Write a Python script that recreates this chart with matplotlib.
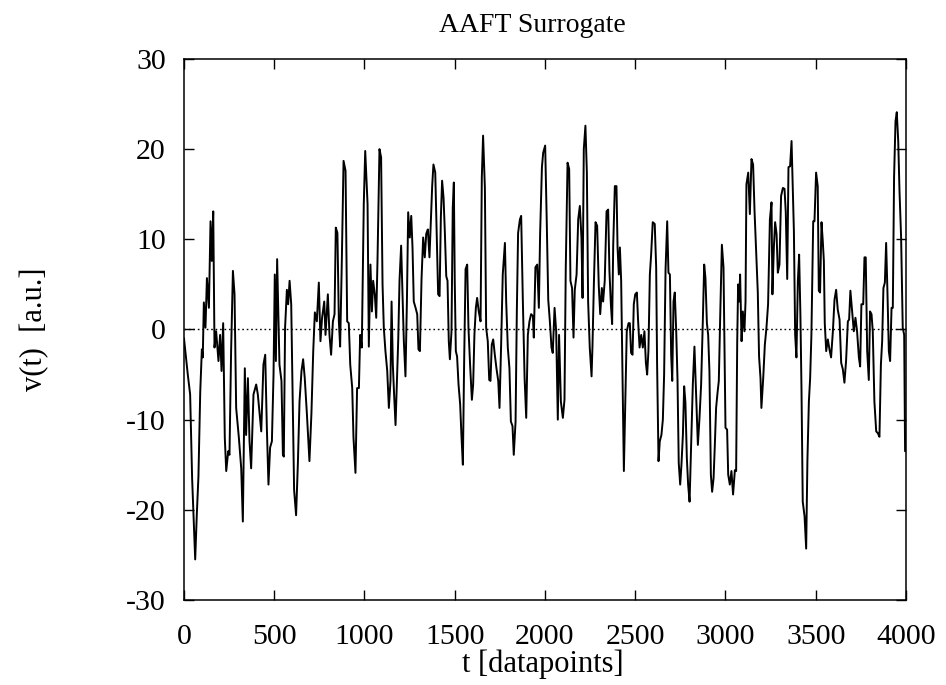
import matplotlib
matplotlib.use("Agg")
import matplotlib.pyplot as plt
import numpy as np

# Time index (datapoints) and signal value v(t) of the AAFT surrogate series
t = [0, 21, 34, 45, 62, 71, 80, 90, 99, 104, 110, 119, 127, 138, 147, 154, 162, 169, 178, 191,
     200, 208, 217, 226, 234, 245, 252, 261, 271, 280, 289, 304, 317, 326, 337, 344, 354, 363, 372, 385,
     400, 409, 428, 440, 450, 459, 468, 477, 487, 496, 503, 509, 516, 529, 540, 548, 553, 560, 570, 577,
     585, 594, 603, 610, 621, 631, 640, 651, 660, 669, 681, 695, 706, 716, 725, 736, 747, 756, 765, 777,
     784, 797, 806, 815, 825, 834, 841, 850, 858, 865, 874, 884, 895, 904, 913, 921, 932, 939, 950, 959,
     969, 976, 985, 996, 1004, 1013, 1017, 1024, 1033, 1041, 1048, 1057, 1065, 1072, 1083, 1092, 1100, 1107, 1116, 1126,
     1135, 1144, 1150, 1157, 1164, 1172, 1179, 1187, 1194, 1203, 1211, 1218, 1227, 1235, 1242, 1251, 1259, 1266, 1273, 1283,
     1292, 1299, 1307, 1316, 1325, 1334, 1342, 1351, 1360, 1368, 1375, 1382, 1392, 1399, 1408, 1416, 1423, 1430, 1438, 1445,
     1453, 1460, 1467, 1473, 1482, 1489, 1495, 1500, 1506, 1513, 1521, 1530, 1537, 1545, 1552, 1560, 1569, 1576, 1585, 1595,
     1602, 1609, 1617, 1624, 1633, 1643, 1650, 1657, 1667, 1674, 1683, 1691, 1698, 1705, 1713, 1722, 1731, 1741, 1748, 1757,
     1766, 1778, 1785, 1794, 1803, 1811, 1820, 1827, 1837, 1844, 1851, 1861, 1868, 1877, 1887, 1896, 1905, 1914, 1923, 1933,
     1938, 1947, 1957, 1966, 1973, 1983, 1990, 2001, 2010, 2018, 2027, 2036, 2043, 2053, 2062, 2071, 2078, 2088, 2099, 2108,
     2115, 2125, 2134, 2141, 2150, 2158, 2165, 2175, 2184, 2193, 2202, 2208, 2215, 2224, 2232, 2239, 2248, 2258, 2263, 2271,
     2280, 2289, 2298, 2306, 2315, 2322, 2331, 2341, 2350, 2357, 2365, 2372, 2378, 2387, 2396, 2402, 2409, 2415, 2422, 2429,
     2437, 2446, 2453, 2463, 2470, 2477, 2485, 2492, 2500, 2509, 2516, 2524, 2533, 2542, 2551, 2559, 2566, 2573, 2581, 2588,
     2597, 2608, 2616, 2621, 2629, 2636, 2645, 2653, 2660, 2668, 2677, 2684, 2692, 2699, 2705, 2712, 2719, 2727, 2734, 2741,
     2749, 2756, 2764, 2771, 2778, 2786, 2793, 2801, 2810, 2819, 2828, 2838, 2847, 2856, 2865, 2874, 2882, 2889, 2897, 2904,
     2911, 2919, 2926, 2934, 2941, 2948, 2956, 2963, 2971, 2980, 2989, 3000, 3009, 3015, 3024, 3033, 3042, 3052, 3059, 3065,
     3070, 3076, 3081, 3089, 3096, 3105, 3111, 3116, 3126, 3135, 3144, 3153, 3161, 3170, 3179, 3186, 3194, 3199, 3209, 3218,
     3227, 3236, 3246, 3255, 3260, 3268, 3275, 3283, 3290, 3299, 3308, 3318, 3327, 3334, 3342, 3349, 3358, 3366, 3371, 3379,
     3386, 3393, 3401, 3408, 3415, 3421, 3428, 3438, 3447, 3454, 3462, 3469, 3476, 3486, 3493, 3502, 3511, 3517, 3524, 3532,
     3539, 3545, 3550, 3558, 3567, 3576, 3585, 3595, 3604, 3613, 3622, 3632, 3641, 3650, 3659, 3668, 3678, 3685, 3692, 3702,
     3711, 3720, 3729, 3739, 3746, 3753, 3763, 3770, 3777, 3785, 3794, 3801, 3809, 3816, 3825, 3835, 3844, 3853, 3861, 3868,
     3875, 3883, 3890, 3897, 3905, 3912, 3920, 3927, 3934, 3942, 3949, 3957, 3964, 3973, 3982, 3990, 3995, 4000]

v = [-1.0, -5.0, -7.2, -16.5, -25.5, -20.5, -16.3, -6.9, -2.2, -3.1, 3.0, 0.2, 5.7, 2.4, 12.0, 7.6, 13.1, -2.0, -0.2, -3.5,
     -0.6, -4.6, 0.7, -12.0, -15.7, -13.5, -13.9, -2.4, 6.5, 3.9, -8.7, -12.0, -15.4, -21.3, -4.3, -11.7, -5.4, -12.4, -15.4, -7.2,
     -6.1, -7.2, -11.3, -3.9, -2.8, -10.9, -17.2, -13.1, -12.4, -5.0, 6.1, -3.5, 7.8, -3.9, -5.7, -13.9, -14.1, 0.2, 4.4, 2.8,
     5.4, 2.8, -8.5, -17.8, -20.6, -14.8, -8.0, -4.6, -3.3, -5.4, -9.4, -14.6, -9.3, -2.4, 1.9, 0.9, 5.2, -1.3, 1.3, 3.1,
     -0.6, 3.9, -0.6, -2.8, 0.9, 1.7, 11.3, 10.7, 0.9, -1.9, 7.2, 18.7, 17.6, 0.9, 0.7, -3.9, -6.5, -12.0, -15.9, -6.5,
     -6.5, -0.6, -2.0, 13.9, 19.8, 15.7, 13.9, -1.9, 7.2, 2.0, 5.4, 3.9, 1.3, 7.6, 20.0, 19.1, 5.0, 0.2, -2.4, -4.6,
     -8.7, -5.7, 3.1, -3.9, -7.2, -10.6, -6.1, -1.1, 5.4, 9.3, 3.5, -1.3, -5.2, 3.1, 13.0, 10.2, 12.6, 9.1, 3.1, 2.4,
     1.7, -2.2, -2.4, 5.6, 10.2, 8.0, 10.6, 11.1, 8.0, 12.2, 15.9, 18.3, 17.4, 11.5, 3.9, 3.7, 12.4, 16.5, 14.6, 10.9,
     5.9, 5.4, -1.3, -3.3, -0.2, 13.5, 16.3, 5.4, -2.4, -3.0, -6.1, -8.3, -11.7, -15.0, -3.7, 6.7, 7.2, 0.2, -3.9, -7.8,
     -6.1, -0.6, 2.4, 3.5, 2.0, 0.9, 16.9, 21.5, 15.7, 0.2, -1.3, -5.6, -5.7, -1.7, -1.1, -2.8, -4.3, -5.7, -8.7, -1.7,
     6.1, 9.6, 3.1, -2.0, -4.3, -10.2, -10.7, -13.9, -10.2, 2.0, 10.7, 12.2, 12.6, 3.5, -5.4, -9.8, -0.6, 0.9, 1.7, 1.5,
     -0.9, 6.9, 7.2, 2.4, 10.6, 18.0, 19.6, 20.4, 11.7, 3.3, 0.9, -2.0, -2.6, 2.4, -0.2, -10.0, -0.6, -8.0, -9.8, -7.8,
     6.7, 18.5, 17.8, 5.4, 4.6, -0.9, 4.4, 6.1, 12.2, 13.7, 10.2, 3.5, 20.0, 22.6, 17.4, 3.1, -2.0, -5.2, -1.9, 5.2,
     11.9, 11.5, 4.8, 1.7, 4.6, 3.1, 5.4, 13.1, 13.3, 6.5, 2.8, 0.6, 9.4, 15.9, 15.9, 9.1, 6.1, 9.1, 5.4, -4.3,
     -15.7, -7.2, -0.2, 0.7, 0.7, -2.6, -2.8, 2.8, 3.9, 4.1, 0.9, -2.0, -0.6, -2.0, -0.2, -3.7, -5.0, -2.4, 6.1, 8.3,
     11.9, 11.7, 6.9, -3.7, -14.6, -12.4, -11.7, -10.0, -5.0, 6.7, 12.0, 6.3, 6.1, -2.8, -5.7, 3.1, 4.1, -0.2, -5.4, -14.8,
     -17.2, -15.0, -11.7, -6.3, -8.1, -14.3, -17.2, -19.1, -12.8, -6.1, -1.9, -7.8, -12.8, -9.8, -6.1, 0.6, 7.2, 5.7, 0.7, -0.6,
     -4.6, -16.1, -18.0, -16.5, -12.8, -8.7, -7.0, -5.7, 1.7, 9.4, 6.9, -10.9, -11.1, -16.1, -17.2, -15.7, -18.3, -15.6, -15.7, -1.3,
     5.0, 3.1, 6.1, -1.3, 2.0, -0.2, 3.1, 16.1, 17.4, 12.8, 18.9, 18.3, 13.1, 8.5, 4.1, -3.0, -5.4, -8.7, -5.4, -1.7,
     0.2, 2.8, 12.2, 14.1, 3.9, 9.1, 11.9, 10.6, 6.3, 7.2, 14.8, 15.7, 15.6, 13.0, 5.6, 18.0, 18.1, 20.9, 16.9, 10.9,
     -0.6, -3.1, 5.4, 8.3, 1.7, -6.5, -19.1, -20.7, -24.3, -14.4, -8.0, -5.4, -0.6, 12.0, 12.0, 17.4, 15.9, 4.3, 4.1, 11.9,
     9.8, 7.6, 0.7, -2.4, -1.1, -2.2, -3.1, -0.2, 3.3, 4.4, 2.2, 1.1, -3.7, -4.4, -5.9, -3.5, 0.9, 1.1, 4.3, 2.0,
     -0.2, 1.3, -0.2, -3.1, -4.1, 2.8, 2.8, 8.0, 8.0, -2.4, -5.6, 2.0, 1.7, -0.2, -8.0, -11.3, -11.5, -11.9, -3.9, -1.3,
     4.6, 5.2, 9.6, 4.4, -2.4, -3.5, 2.4, 2.4, 16.9, 23.1, 24.1, 20.9, 15.4, 10.2, 0.2, -0.6, -13.5, -13.5]

x_ticks = [0, 500, 1000, 1500, 2000, 2500, 3000, 3500, 4000]
y_ticks = [-30, -20, -10, 0, 10, 20, 30]

plt.rcParams["font.family"] = ["Liberation Serif", "DejaVu Serif"]
plt.rcParams["axes.unicode_minus"] = False

fig = plt.figure(figsize=(9.46, 6.85), dpi=100)
ax = fig.add_axes([0.1945, 0.1241, 0.7632, 0.7898])

ax.plot(t, v, color="black", linewidth=1.4)
ax.axhline(0, color="black", linewidth=1.0, linestyle=(0, (1.2, 2.0)))

ax.set_xlim(0, 4000)
ax.set_ylim(-30, 30)
ax.set_xticks(x_ticks)
ax.set_yticks(y_ticks)
ax.tick_params(direction="in", length=7, width=1.0, top=True, right=True,
               labelsize=21.5)
ax.tick_params(axis="y", pad=13)
ax.tick_params(axis="x", pad=17)
for s in ax.spines.values():
    s.set_linewidth(1.1)

fig.text(0.563, 0.9635, "AAFT Surrogate", fontsize=20, ha="center", va="center")
fig.text(0.574, 0.030, "t [datapoints]", fontsize=22, ha="center", va="center")
fig.text(0.037, 0.52, "v(t)  [a.u.]", rotation=90, fontsize=22,
         ha="center", va="center")

fig.savefig("out.png", dpi=100, facecolor="white")
